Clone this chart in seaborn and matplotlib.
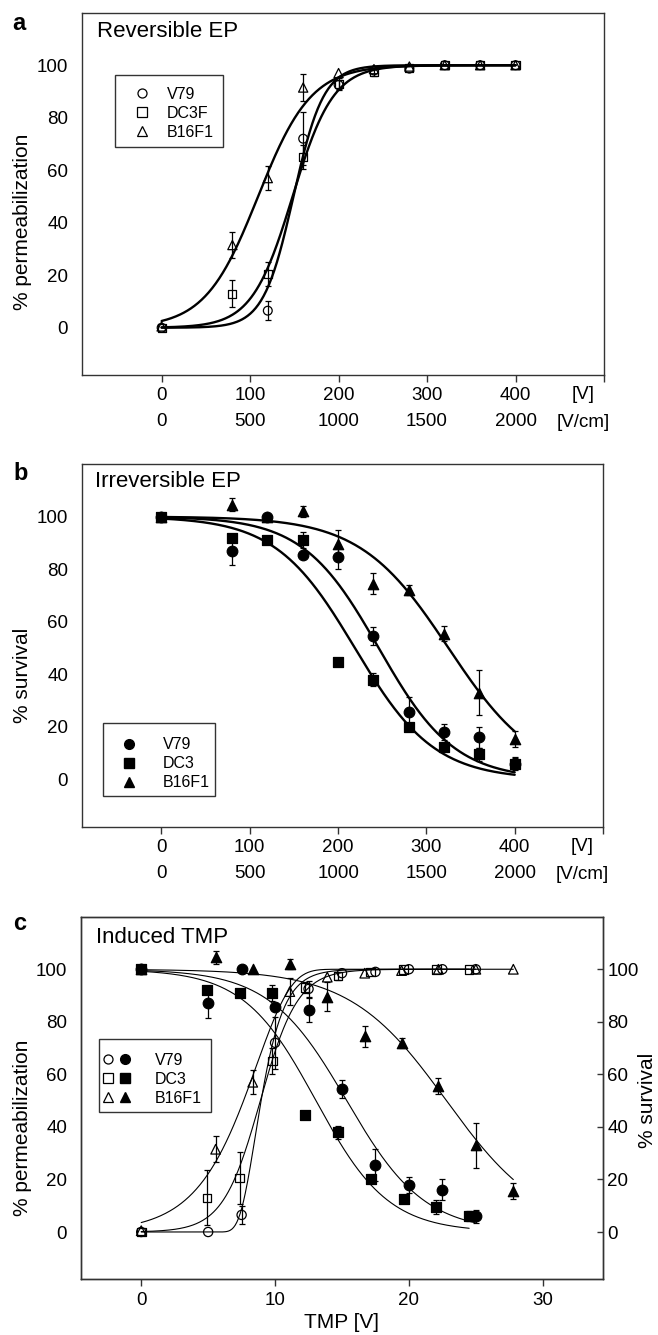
import numpy as np
import matplotlib
matplotlib.use("Agg")
import matplotlib.pyplot as plt
import seaborn as sns
from matplotlib.lines import Line2D
from matplotlib.patches import Rectangle
from matplotlib.legend_handler import HandlerTuple
from matplotlib.transforms import blended_transform_factory

# ---------------- data ----------------
# panel a: reversible EP, % permeabilization vs applied voltage [V]
a_v79_x = [0, 120, 160, 200, 240, 280, 320, 360, 400]
a_v79_y = [0, 6.5, 72, 92.5, 98, 98.7, 100, 100, 100]
a_v79_err = [0, 3.5, 10, 2, 0, 0, 0, 0, 0]
a_dc3f_x = [0, 80, 120, 160, 200, 240, 280, 320, 360, 400]
a_dc3f_y = [0, 13, 20.5, 65, 93, 97.5, 99, 100, 100, 100]
a_dc3f_err = [0, 5, 4.5, 4.5, 2, 1.5, 0, 0, 0, 0]
a_b16_x = [0, 80, 120, 160, 200, 240, 280, 320, 360, 400]
a_b16_y = [0.5, 31.5, 57, 91.5, 97, 98.5, 99.5, 100, 100, 100]
a_b16_err = [0, 5, 4.5, 5, 0, 0, 0, 0, 0, 0]

# panel b: irreversible EP, % survival vs applied voltage [V]
b_x = [0, 80, 120, 160, 200, 240, 280, 320, 360, 400]
b_v79_y = [100, 87, 100, 85.5, 84.5, 54.5, 25.5, 18, 16, 6]
b_v79_err = [0, 5.5, 0, 0, 4.5, 3.5, 6, 3, 4, 2.5]
b_dc3_y = [100, 92, 91, 91, 44.5, 38, 20, 12.5, 9.5, 6]
b_dc3_err = [0, 0, 0, 3, 0, 2.5, 0, 0, 2.5, 2]
b_b16_y = [100, 104.5, 100, 102, 89.5, 74.5, 72, 55.5, 33, 15.5]
b_b16_err = [0, 2.5, 0, 2, 5.5, 4, 2, 3, 8.5, 3]

# panel c: same experiments against induced TMP [V]
c_v79_x = [0, 5, 7.5, 10, 12.5, 15, 17.5, 20, 22.5, 25]
c_dc3_x = [0, 4.9, 7.35, 9.8, 12.25, 14.7, 17.15, 19.6, 22.05, 24.5]
c_b16_x = [0, 5.56, 8.33, 11.1, 13.9, 16.7, 19.45, 22.2, 25, 27.8]
c_v79_perm = [0, 0, 6.5, 72, 92.5, 98.5, 99, 100, 100, 100]
c_v79_perm_err = [0, 0, 3.5, 10, 3, 0, 0, 0, 0, 0]
c_dc3_perm = [0, 13, 20.5, 65, 93, 97.5, 99, 100, 100, 100]
c_dc3_perm_err = [0, 10.5, 10, 5, 2, 1.5, 0, 0, 0, 0]
c_b16_perm = [0.5, 31.5, 57, 91.5, 97, 98.5, 99.5, 100, 100, 100]
c_b16_perm_err = [0, 5, 4.5, 5, 0, 0, 0, 0, 0, 0]

# fitted sigmoid parameters (midpoint, width)
a_fit_v79 = (149, 17)
a_fit_dc3f = (148, 23)
a_fit_b16 = (109, 30)
b_fit_v79 = (246, 43)
b_fit_dc3 = (219, 45)
b_fit_b16 = (325, 50)
c_fit_v79_perm = (8.53, 1.166)     # gompertz
c_fit_dc3_perm = (8.9, 1.4)        # logistic
c_fit_b16_perm = (8.6, 2.6)        # complementary log-log
c_fit_v79_surv = (15.35, 2.9)
c_fit_dc3_surv = (13.05, 2.7)
c_fit_b16_surv = (22.8, 3.6)

v_ticks = [0, 100, 200, 300, 400, 500]
v_tick_labels = ["0", "100", "200", "300", "400", ""]
vcm_ticks = [0, 500, 1000, 1500, 2000]
field_factor = 5  # V -> V/cm
tmp_ticks = [0, 10, 20, 30]
pct_ticks = [0, 20, 40, 60, 80, 100]


def rise(x, p):
    return 100 / (1 + np.exp(-(x - p[0]) / p[1]))


def fall(x, p):
    return 100 / (1 + np.exp((x - p[0]) / p[1]))


def gompertz(x, p):
    return 100 * np.exp(-np.exp(-(x - p[0]) / p[1]))


def cloglog(x, p):
    return 100 * (1 - np.exp(-np.exp((x - p[0]) / p[1])))


sns.set_theme(style="white")
plt.rcParams['font.family'] = ['Liberation Sans', 'DejaVu Sans']
plt.rcParams['axes.edgecolor'] = '#333333'
plt.rcParams['axes.linewidth'] = 1.0
for k in ['text.color', 'axes.labelcolor', 'xtick.color', 'ytick.color']:
    plt.rcParams[k] = 'black'

W, H = 658, 1335
fig = plt.figure(figsize=(W / 100, H / 100), dpi=100)
ax_a = fig.add_axes([82 / W, 1 - 375 / H, 522 / W, 362.3 / H])
ax_b = fig.add_axes([82 / W, 1 - 826.7 / H, 521 / W, 362.7 / H])
ax_c = fig.add_axes([81 / W, 1 - 1279.3 / H, 522 / W, 362.6 / H])

TICK = 13.5


def curve(ax, func, p, xmax, lw):
    xs = np.linspace(0, xmax, 400)
    sns.lineplot(x=xs, y=func(xs, p), ax=ax, color='black', lw=lw,
                 estimator=None, sort=False)


def points(ax, x, y, err, marker, filled, s):
    x = np.asarray(x, float)
    y = np.asarray(y, float)
    err = np.asarray(err, float)
    m = err > 0
    if m.any():
        ax.errorbar(x[m], y[m], yerr=err[m], fmt='none', ecolor='black',
                    elinewidth=0.9, capsize=2.5, capthick=0.9, zorder=3)
    sns.scatterplot(x=x, y=y, ax=ax, marker=marker, s=s, color='black',
                    facecolor='black' if filled else 'none',
                    edgecolor='black', linewidth=0.9, zorder=4)


def volt_axis(ax):
    ax.set_xlim(-90, 500)
    ax.set_ylim(-18, 120)
    ax.set_xticks(v_ticks)
    ax.set_xticklabels(v_tick_labels)
    ax.set_yticks(pct_ticks)
    ax.tick_params(axis='x', direction='out', length=5, width=1,
                   labelsize=TICK, pad=4, bottom=True, color='#333333')
    ax.tick_params(axis='y', length=0, labelsize=TICK, pad=10)
    sec = ax.secondary_xaxis(-32.4 / 362.3,
                             functions=(lambda v: v * field_factor,
                                        lambda e: e / field_factor))
    sec.set_xticks(vcm_ticks)
    sec.tick_params(length=0, labelsize=TICK, pad=4)
    sec.spines['bottom'].set_visible(False)
    tr = blended_transform_factory(ax.transData, ax.transAxes)
    ax.text(476, -0.055, "[V]", transform=tr, ha='center', va='center',
            fontsize=TICK)
    ax.text(476, -0.131, "[V/cm]", transform=tr, ha='center', va='center',
            fontsize=TICK)
    for sp in ax.spines.values():
        sp.set_visible(True)


def boxed_legend(ax, handles, labels, box, anchor, hl, htp, handler_map=None):
    ax.add_patch(Rectangle((box[0], box[1]), box[2], box[3],
                           transform=ax.transAxes, fill=False,
                           edgecolor='#333333', lw=1.0, zorder=5))
    ax.legend(handles, labels, loc='upper left', bbox_to_anchor=anchor,
              bbox_transform=ax.transAxes, frameon=False, borderpad=0,
              borderaxespad=0, fontsize=11.5, handlelength=hl,
              handletextpad=htp, labelspacing=0.25, handler_map=handler_map)


# ---------------- panel a ----------------
curve(ax_a, rise, a_fit_v79, 400, 1.7)
curve(ax_a, rise, a_fit_dc3f, 400, 1.7)
curve(ax_a, rise, a_fit_b16, 400, 1.7)
points(ax_a, a_v79_x, a_v79_y, a_v79_err, 'o', False, 40)
points(ax_a, a_dc3f_x, a_dc3f_y, a_dc3f_err, 's', False, 34)
points(ax_a, a_b16_x, a_b16_y, a_b16_err, '^', False, 44)
volt_axis(ax_a)
ax_a.set_ylabel('% permeabilization', fontsize=15)
ax_a.yaxis.set_label_coords(-0.096, 0.422)
ax_a.text(0.029, 0.947, 'Reversible EP', transform=ax_a.transAxes,
          fontsize=16, ha='left', va='center')
hs = [Line2D([], [], ls='none', marker=mk, mfc='none', mec='black', ms=6.5,
             mew=0.9) for mk in ['o', 's', '^']]
boxed_legend(ax_a, hs, ['V79', 'DC3F', 'B16F1'],
             (0.063, 0.630, 0.207, 0.198), (0.0995, 0.795), 1.0, 1.05)

# ---------------- panel b ----------------
curve(ax_b, fall, b_fit_v79, 400, 1.7)
curve(ax_b, fall, b_fit_dc3, 400, 1.7)
curve(ax_b, fall, b_fit_b16, 400, 1.7)
points(ax_b, b_x, b_v79_y, b_v79_err, 'o', True, 58)
points(ax_b, b_x, b_dc3_y, b_dc3_err, 's', True, 44)
points(ax_b, b_x, b_b16_y, b_b16_err, '^', True, 56)
volt_axis(ax_b)
ax_b.set_ylabel('% survival', fontsize=15)
ax_b.yaxis.set_label_coords(-0.096, 0.418)
ax_b.text(0.025, 0.951, 'Irreversible EP', transform=ax_b.transAxes,
          fontsize=16, ha='left', va='center')
hs = [Line2D([], [], ls='none', marker=mk, mfc='black', mec='black', ms=7)
      for mk in ['o', 's', '^']]
boxed_legend(ax_b, hs, ['V79', 'DC3', 'B16F1'],
             (0.0412, 0.0846, 0.2144, 0.2005), (0.0755, 0.247), 1.0, 1.6)

# ---------------- panel c ----------------
curve(ax_c, gompertz, c_fit_v79_perm, c_v79_x[-1], 0.8)
curve(ax_c, rise, c_fit_dc3_perm, c_dc3_x[-1], 0.8)
curve(ax_c, cloglog, c_fit_b16_perm, c_b16_x[-1], 0.8)
curve(ax_c, fall, c_fit_v79_surv, c_v79_x[-1], 0.8)
curve(ax_c, fall, c_fit_dc3_surv, c_dc3_x[-1], 0.8)
curve(ax_c, fall, c_fit_b16_surv, c_b16_x[-1], 0.8)
points(ax_c, c_v79_x, c_v79_perm, c_v79_perm_err, 'o', False, 44)
points(ax_c, c_dc3_x, c_dc3_perm, c_dc3_perm_err, 's', False, 38)
points(ax_c, c_b16_x, c_b16_perm, c_b16_perm_err, '^', False, 48)
points(ax_c, c_v79_x, b_v79_y, b_v79_err, 'o', True, 58)
points(ax_c, c_dc3_x, b_dc3_y, b_dc3_err, 's', True, 44)
points(ax_c, c_b16_x, b_b16_y, b_b16_err, '^', True, 56)
ax_c.set_xlim(-4.5, 34.5)
ax_c.set_ylim(-18, 120)
ax_c.set_xticks(tmp_ticks)
ax_c.set_yticks(pct_ticks)
ax_c.tick_params(axis='x', direction='out', length=5, width=1,
                 labelsize=TICK, pad=4, bottom=True, color='#333333')
ax_c.tick_params(axis='y', length=0, labelsize=TICK, pad=10)
ax_c.set_xlabel('TMP [V]', fontsize=15, labelpad=3)
ax_c.set_ylabel('% permeabilization', fontsize=15)
ax_c.yaxis.set_label_coords(-0.094, 0.417)
ax_c.text(0.029, 0.943, 'Induced TMP', transform=ax_c.transAxes,
          fontsize=16, ha='left', va='center')
for sp in ax_c.spines.values():
    sp.set_visible(True)
ax_r = ax_c.twinx()
ax_r.set_ylim(-18, 120)
ax_r.set_yticks(pct_ticks)
ax_r.tick_params(axis='y', direction='in', length=4, width=1, right=True,
                 labelsize=TICK, pad=3, color='#333333')
ax_r.set_ylabel('% survival', fontsize=15, rotation=90)
ax_r.yaxis.set_label_coords(1.067, 0.494)
ax_r.grid(False)

open_h = [Line2D([], [], ls='none', marker=mk, mfc='none', mec='black', ms=6.5,
                 mew=0.9) for mk in ['o', 's', '^']]
fill_h = [Line2D([], [], ls='none', marker=mk, mfc='black', mec='black', ms=7)
          for mk in ['o', 's', '^']]
boxed_legend(ax_c, list(zip(open_h, fill_h)), ['V79', 'DC3', 'B16F1'],
             (0.0345, 0.4622, 0.2146, 0.1997), (0.042, 0.625), 1.725, 1.5,
             handler_map={tuple: HandlerTuple(ndivide=None, pad=0.42)})

# panel letters
fig.text(19 / W, 1 - 23 / H, 'a', fontsize=17, fontweight='bold',
         ha='center', va='center')
fig.text(21 / W, 1 - 473 / H, 'b', fontsize=17, fontweight='bold',
         ha='center', va='center')
fig.text(20 / W, 1 - 923 / H, 'c', fontsize=17, fontweight='bold',
         ha='center', va='center')

fig.savefig('out.png', dpi=100)
